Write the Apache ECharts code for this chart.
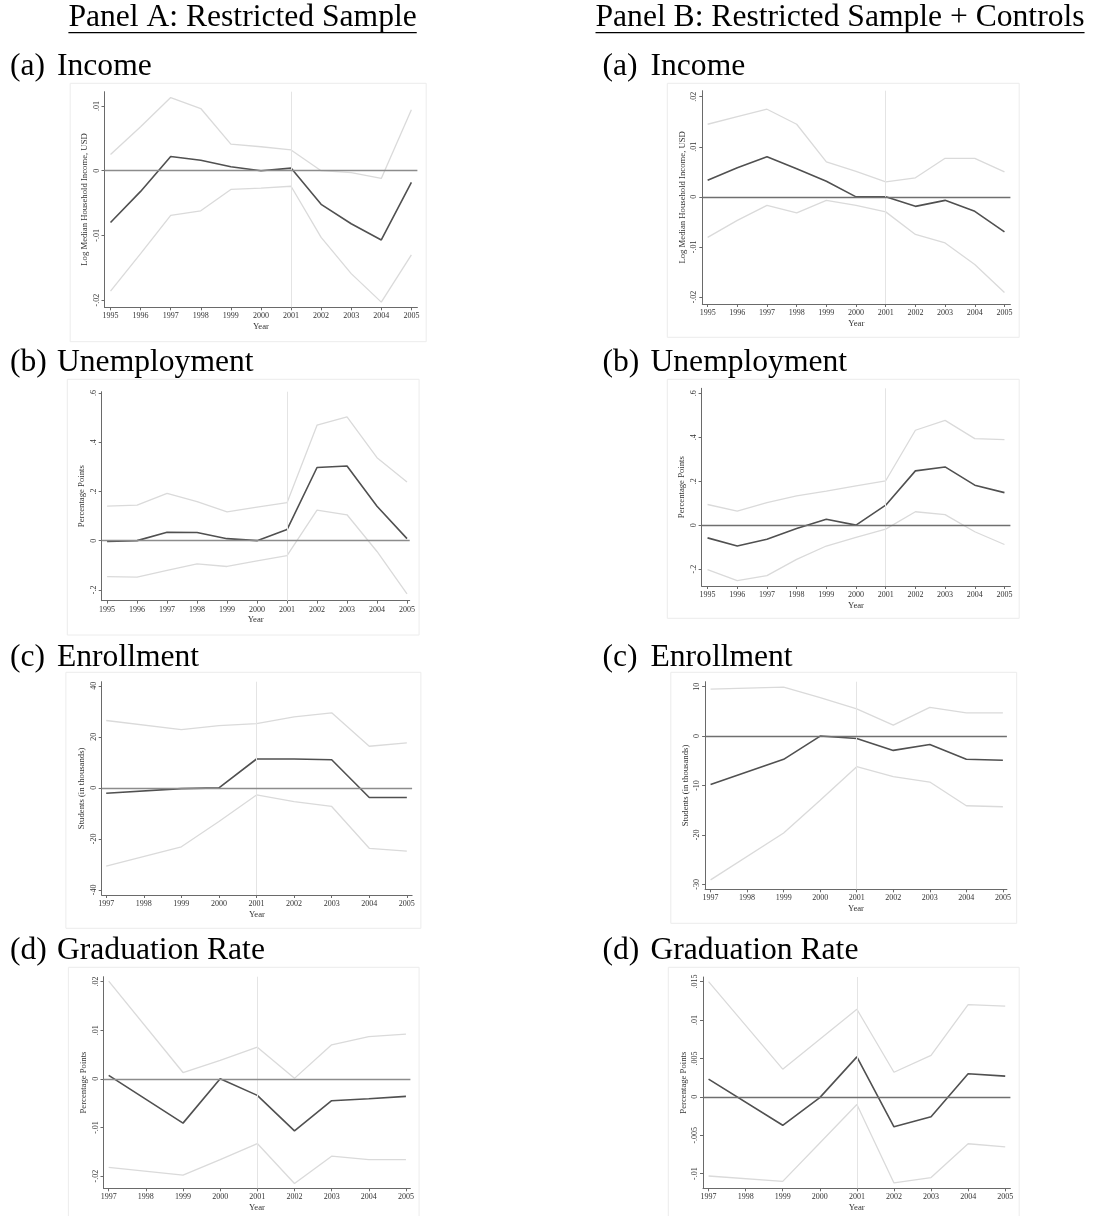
<!DOCTYPE html>
<html><head><meta charset="utf-8">
<script src="https://cdn.jsdelivr.net/npm/echarts@6/dist/echarts.min.js"></script>
<style>html,body{margin:0;padding:0;background:#fff}#c{width:1099px;height:1216px}</style>
</head><body><div id="c"></div>
<script>
// ---------------- DATA ----------------
const yearsLong  = [1995, 1996, 1997, 1998, 1999, 2000, 2001, 2002, 2003, 2004, 2005];
const yearsShort = [1997, 1998, 1999, 2000, 2001, 2002, 2003, 2004, 2005];

// Panel A: Restricted Sample
const incomeA_est = [-0.0080, -0.0032, 0.0022, 0.0016, 0.0006, 0.0000, 0.0004, -0.0052, -0.0082, -0.0107, -0.0018];
const incomeA_hi  = [0.0025, 0.0068, 0.0113, 0.0096, 0.0041, 0.0037, 0.0032, 0.0000, -0.0003, -0.0012, 0.0094];
const incomeA_lo  = [-0.0186, -0.0128, -0.0069, -0.0062, -0.0029, -0.0027, -0.0024, -0.0103, -0.0159, -0.0203, -0.0130];

const unempA_est = [-0.003, 0.000, 0.034, 0.033, 0.008, 0.000, 0.045, 0.297, 0.303, 0.140, 0.008];
const unempA_hi  = [0.140, 0.144, 0.192, 0.158, 0.117, 0.136, 0.154, 0.469, 0.503, 0.337, 0.238];
const unempA_lo  = [-0.146, -0.148, -0.121, -0.094, -0.105, -0.082, -0.061, 0.124, 0.105, -0.044, -0.216];

const enrollA_est = [-2.1, null, -0.3, 0.0, 11.3, 11.3, 11.0, -3.8, -3.8];
const enrollA_hi  = [26.4, null, 22.8, 24.4, 25.2, 27.8, 29.4, 16.3, 17.6];
const enrollA_lo  = [-30.7, null, -23.1, -13.2, -2.8, -5.4, -7.3, -23.7, -24.8];

const gradA_est = [0.0007, null, -0.0091, 0.0000, -0.0034, -0.0107, -0.0045, -0.0041, -0.0036];
const gradA_hi  = [0.0201, null, 0.0013, 0.0038, 0.0065, 0.0001, 0.0070, 0.0087, 0.0092];
const gradA_lo  = [-0.0182, null, -0.0198, -0.0166, -0.0133, -0.0215, -0.0159, -0.0166, -0.0166];

// Panel B: Restricted Sample + Controls
const incomeB_est = [0.0033, 0.0058, 0.0080, 0.0056, 0.0031, 0.0000, 0.0000, -0.0019, -0.0007, -0.0029, -0.0070];
const incomeB_hi  = [0.0145, 0.0160, 0.0175, 0.0145, 0.0070, 0.0051, 0.0030, 0.0038, 0.0077, 0.0077, 0.0050];
const incomeB_lo  = [-0.0081, -0.0047, -0.0017, -0.0032, -0.0007, -0.0017, -0.0030, -0.0075, -0.0092, -0.0135, -0.0191];

const unempB_est = [-0.058, -0.095, -0.064, -0.015, 0.027, 0.000, 0.091, 0.247, 0.265, 0.182, 0.148];
const unempB_hi  = [0.094, 0.064, 0.103, 0.133, 0.155, 0.179, 0.202, 0.432, 0.477, 0.394, 0.389];
const unempB_lo  = [-0.202, -0.253, -0.230, -0.156, -0.095, -0.056, -0.018, 0.061, 0.048, -0.030, -0.088];

const enrollB_est = [-9.8, null, -4.7, 0.0, -0.5, -2.9, -1.7, -4.7, -4.9];
const enrollB_hi  = [9.5, null, 9.9, 7.8, 5.5, 2.2, 5.8, 4.7, 4.7];
const enrollB_lo  = [-29.1, null, -19.6, -13.0, -6.2, -8.2, -9.3, -14.1, -14.3];

const gradB_est = [0.0023, null, -0.0037, -0.0001, 0.0052, -0.0039, -0.0026, 0.0030, 0.0027];
const gradB_hi  = [0.0150, null, 0.0036, 0.0075, 0.0114, 0.0032, 0.0054, 0.0120, 0.0118];
const gradB_lo  = [-0.0103, null, -0.0110, -0.0060, -0.0010, -0.0112, -0.0105, -0.0061, -0.0065];

// tick labels
const ticksIncomeA = [-0.02, -0.01, 0, 0.01];
const ticksUnemp   = [-0.2, 0, 0.2, 0.4, 0.6];
const ticksEnrollA = [-40, -20, 0, 20, 40];
const ticksGradA   = [-0.02, -0.01, 0, 0.01, 0.02];
const ticksIncomeB = [-0.02, -0.01, 0, 0.01, 0.02];
const ticksEnrollB = [-30, -20, -10, 0, 10];
const ticksGradB   = [-0.01, -0.005, 0, 0.005, 0.01, 0.015];

const eventYear = 2001;
const nameIncome = 'Log Median Household Income, USD';
const namePP = 'Percentage Points';
const nameStudents = 'Students (in thousands)';
const nameYear = 'Year';

const panelTitles = ['Panel A: Restricted Sample', 'Panel B: Restricted Sample + Controls'];
const subLetters = ['(a)', '(b)', '(c)', '(d)'];
const subNames = ['Income', 'Unemployment', 'Enrollment', 'Graduation Rate'];

// ---------------- PANELS ----------------
const panels = [
  {years: yearsLong,  est: incomeA_est, hi: incomeA_hi, lo: incomeA_lo, ticks: ticksIncomeA, yName: nameIncome},
  {years: yearsLong,  est: unempA_est,  hi: unempA_hi,  lo: unempA_lo,  ticks: ticksUnemp,   yName: namePP},
  {years: yearsShort, est: enrollA_est, hi: enrollA_hi, lo: enrollA_lo, ticks: ticksEnrollA, yName: nameStudents},
  {years: yearsShort, est: gradA_est,   hi: gradA_hi,   lo: gradA_lo,   ticks: ticksGradA,   yName: namePP},
  {years: yearsLong,  est: incomeB_est, hi: incomeB_hi, lo: incomeB_lo, ticks: ticksIncomeB, yName: nameIncome},
  {years: yearsLong,  est: unempB_est,  hi: unempB_hi,  lo: unempB_lo,  ticks: ticksUnemp,   yName: namePP},
  {years: yearsShort, est: enrollB_est, hi: enrollB_hi, lo: enrollB_lo, ticks: ticksEnrollB, yName: nameStudents},
  {years: yearsShort, est: gradB_est,   hi: gradB_hi,   lo: gradB_lo,   ticks: ticksGradB,   yName: namePP}
];

// layout: grid box [left, top, right, bottom], axis ranges, frame box
const layout = [
  {g: [104.5, 91.7, 417.4, 307.3], x: [1994.8, 2005.2], y: [-0.0211, 0.0122], f: [70.2, 83.3, 426.2, 341.7]},
  {g: [101.7, 391.7, 409.7, 600.7], x: [1994.82, 2005.09], y: [-0.244, 0.605], f: [67.3, 379.3, 419.1, 635]},
  {g: [101.7, 681.7, 412.1, 895],   x: [1996.88, 2005.14], y: [-42, 41.6], f: [65.9, 672.3, 420.9, 928.3]},
  {g: [103.5, 976.7, 410.4, 1188.3], x: [1996.86, 2005.12], y: [-0.0225, 0.0210], f: [68.4, 967.3, 419.1, 1230]},
  {g: [702.3, 90.7, 1010.4, 304],   x: [1994.82, 2005.2], y: [-0.0214, 0.0212], f: [667.3, 83.3, 1019.2, 337.3]},
  {g: [701.6, 388.3, 1010.4, 586],  x: [1994.8, 2005.2], y: [-0.277, 0.623], f: [667.3, 379.3, 1019.2, 618.3]},
  {g: [705.1, 681.7, 1006.9, 889.3], x: [1996.85, 2005.11], y: [-31.0, 11.0], f: [670.8, 672.3, 1016.7, 923.3]},
  {g: [703, 977, 1010.4, 1188.3],   x: [1996.85, 2005.14], y: [-0.0119, 0.0156], f: [668.3, 967.3, 1019.2, 1230]}
];

const FONT = "'Liberation Serif', 'Times New Roman', serif";
const HFS = 31.6;
const AXIS = '#6a6a6a';

function fmtY(v) {
  if (v === 0) return '0';
  const s = String(+v.toPrecision(6));
  return s.replace(/^(-?)0\./, '$1.');
}

const grids = [], xAxes = [], yAxes = [], series = [], graphics = [];
panels.forEach((p, i) => {
  const L = layout[i];
  grids.push({left: L.g[0], top: L.g[1], width: L.g[2] - L.g[0], height: L.g[3] - L.g[1], containLabel: false});
  xAxes.push({
    type: 'value', gridIndex: i, min: L.x[0], max: L.x[1],
    name: nameYear, nameLocation: 'middle', nameGap: 15,
    nameTextStyle: {fontFamily: FONT, fontSize: 8.7, color: '#333'},
    axisLine: {onZero: false, lineStyle: {color: AXIS, width: 1}},
    axisTick: {show: true, length: 3, customValues: p.years, lineStyle: {color: AXIS}},
    axisLabel: {customValues: p.years, formatter: v => String(v), fontFamily: FONT, fontSize: 8, color: '#333', margin: 5},
    splitLine: {show: false}
  });
  yAxes.push({
    type: 'value', gridIndex: i, min: L.y[0], max: L.y[1],
    name: p.yName, nameLocation: 'middle', nameGap: 15, nameRotate: 90,
    nameTextStyle: {fontFamily: FONT, fontSize: 8.7, color: '#333'},
    axisLine: {show: true, onZero: false, lineStyle: {color: AXIS, width: 1}},
    axisTick: {show: true, length: 3, customValues: p.ticks, lineStyle: {color: AXIS}},
    axisLabel: {customValues: p.ticks, formatter: fmtY, rotate: 90, fontFamily: FONT, fontSize: 8, color: '#333', margin: 4},
    splitLine: {show: false}
  });
  const pair = arr => p.years.map((yr, k) => [yr, arr[k]]);
  series.push({
    type: 'line', xAxisIndex: i, yAxisIndex: i, data: pair(p.lo), connectNulls: true,
    symbol: 'none', lineStyle: {color: '#dadada', width: 1.3}, silent: true, z: 2,
    markLine: {
      silent: true, symbol: 'none', label: {show: false}, animation: false,
      data: [
        {xAxis: eventYear, lineStyle: {color: '#e4e4e4', width: 1, type: 'solid'}},
        {yAxis: 0, lineStyle: {color: i < 4 ? '#8c8c8c' : '#6f6f6f', width: 1.3, type: 'solid'}}
      ]
    }
  });
  series.push({
    type: 'line', xAxisIndex: i, yAxisIndex: i, data: pair(p.hi), connectNulls: true,
    symbol: 'none', lineStyle: {color: '#dadada', width: 1.3}, silent: true, z: 2
  });
  series.push({
    type: 'line', xAxisIndex: i, yAxisIndex: i, data: pair(p.est), connectNulls: true,
    symbol: 'none', lineStyle: {color: '#505050', width: 1.6}, silent: true, z: 3
  });
  graphics.push({type: 'rect', silent: true, z: -1,
    shape: {x: L.f[0], y: L.f[1], width: L.f[2] - L.f[0], height: L.f[3] - L.f[1]},
    style: {fill: 'none', stroke: '#ececec', lineWidth: 1}});
});

// headings
const ctx = document.createElement('canvas').getContext('2d');
ctx.font = HFS + "px 'Liberation Serif'";
const BASE_OFF = 24.8; // distance from title box top to baseline
const titles = [];
const headX = [68.4, 595.5];
const headBase = 26.9;
panelTitles.forEach((t, j) => {
  titles.push({text: t, left: headX[j], top: headBase - BASE_OFF, padding: 0,
    textStyle: {fontFamily: FONT, fontSize: HFS, fontWeight: 'normal', color: '#000', lineHeight: HFS}});
  const w = ctx.measureText(t).width;
  graphics.push({type: 'line', silent: true,
    shape: {x1: headX[j], y1: 32.6, x2: headX[j] + w, y2: 32.6},
    style: {stroke: '#000', lineWidth: 1.4}});
});
const subBase = [76.2, 371.9, 666.9, 960.2];
const subX = [[10, 57], [602.5, 650.5]];
subLetters.forEach((l, r) => {
  [0, 1].forEach(c => {
    titles.push({text: l, left: subX[c][0], top: subBase[r] - BASE_OFF, padding: 0,
      textStyle: {fontFamily: FONT, fontSize: HFS, fontWeight: 'normal', color: '#000', lineHeight: HFS}});
    titles.push({text: subNames[r], left: subX[c][1], top: subBase[r] - BASE_OFF, padding: 0,
      textStyle: {fontFamily: FONT, fontSize: HFS, fontWeight: 'normal', color: '#000', lineHeight: HFS}});
  });
});

const chart = echarts.init(document.getElementById('c'), null, {renderer: 'canvas'});
chart.setOption({
  animation: false,
  backgroundColor: '#fff',
  title: titles,
  grid: grids,
  xAxis: xAxes,
  yAxis: yAxes,
  series: series,
  graphic: graphics
});
</script></body></html>
